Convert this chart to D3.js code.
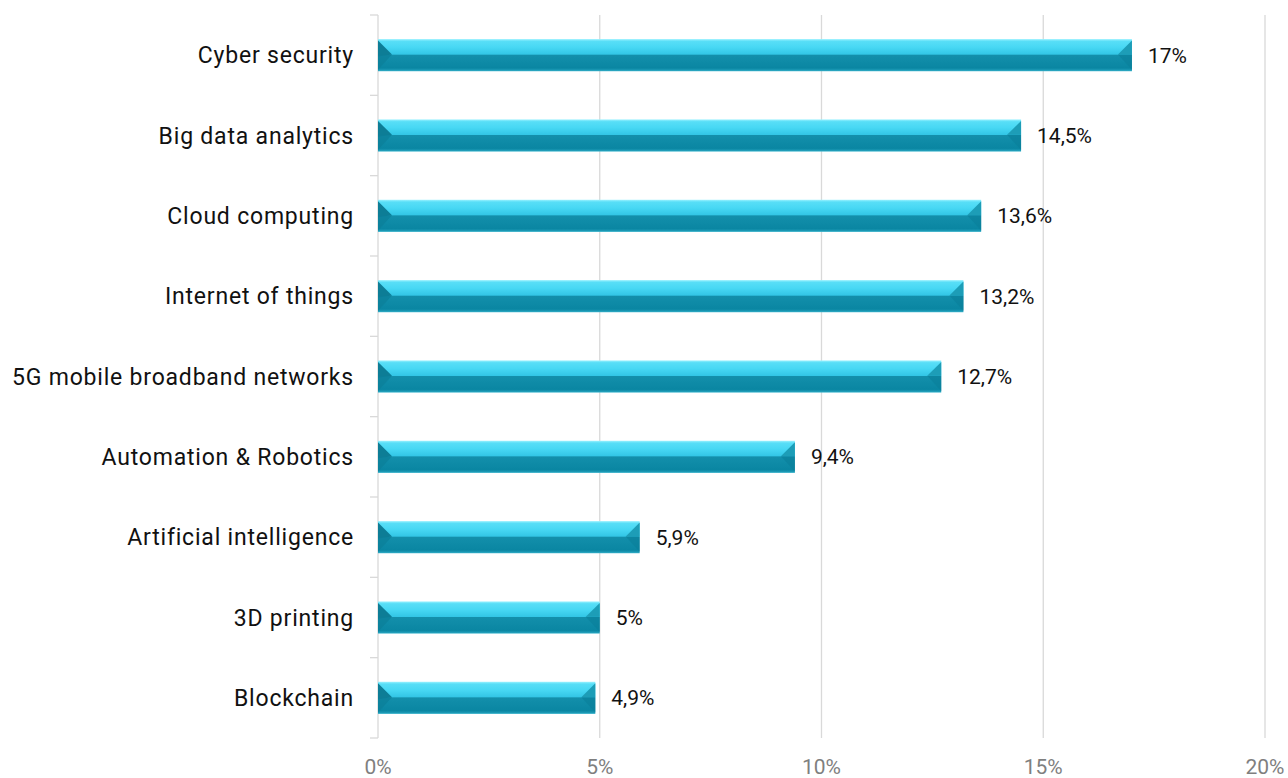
<!DOCTYPE html>
<html><head><meta charset="utf-8">
<script src="https://cdn.jsdelivr.net/npm/d3@7/dist/d3.min.js"></script>
<style>body{margin:0;background:#fff}svg{display:block}</style>
</head><body>
<svg id="chart" width="1288" height="778"></svg>
<script>
const categories = ["Cyber security","Big data analytics","Cloud computing","Internet of things","5G mobile broadband networks","Automation & Robotics","Artificial intelligence","3D printing","Blockchain"];
const values = [17, 14.5, 13.6, 13.2, 12.7, 9.4, 5.9, 5, 4.9];
const valueLabels = ["17%","14,5%","13,6%","13,2%","12,7%","9,4%","5,9%","5%","4,9%"];
const xTicks = [0, 5, 10, 15, 20];
const xTickLabels = ["0%","5%","10%","15%","20%"];

const svg = d3.select("#chart");
const m = {left: 378, right: 1265, top: 15, bottom: 738};
const font = "Roboto, 'DejaVu Sans', sans-serif";

const x = d3.scaleLinear().domain([0, 20]).range([m.left, m.right]);
const y = d3.scaleBand().domain(categories).range([m.top, m.bottom]).paddingInner(0.6).paddingOuter(0.3);

const defs = svg.append("defs");
const g = defs.append("linearGradient").attr("id","barGrad").attr("x1",0).attr("y1",0).attr("x2",0).attr("y2",1);
[[0,"#9af2ff"],[0.07,"#58def7"],[0.25,"#48d8f4"],[0.47,"#33c6e6"],[0.5,"#138fab"],[0.9,"#0a86a2"],[0.96,"#1a98b4"],[1,"#3ab4cc"]]
  .forEach(([o,c]) => g.append("stop").attr("offset",o).attr("stop-color",c));

// gridlines
svg.append("g").selectAll("line").data(xTicks.slice(1)).join("line")
  .attr("x1", d => x(d)).attr("x2", d => x(d))
  .attr("y1", m.top).attr("y2", m.bottom)
  .attr("stroke", "#d9d9d9").attr("stroke-width", 1.3);

// category axis line and ticks between bands
const bounds = d3.range(categories.length + 1).map(i => m.top + (m.bottom - m.top) * i / categories.length);
svg.append("line").attr("x1", m.left).attr("x2", m.left).attr("y1", m.top).attr("y2", m.bottom)
  .attr("stroke", "#d9d9d9").attr("stroke-width", 1.3);
svg.append("g").selectAll("line").data(bounds).join("line")
  .attr("x1", m.left - 8).attr("x2", m.left).attr("y1", d => d).attr("y2", d => d)
  .attr("stroke", "#d9d9d9").attr("stroke-width", 1.3);

// bars
const bev = 14;
const bars = svg.append("g").selectAll("g").data(categories).join("g");
bars.each(function(c, i) {
  const sel = d3.select(this);
  const x0 = x(0), x1 = x(values[i]);
  const y0 = y(c), h = y.bandwidth(), y1 = y0 + h, ym = y0 + h * 0.48;
  sel.append("rect").attr("x", x0).attr("y", y0).attr("width", x1 - x0).attr("height", h).attr("fill", "url(#barGrad)");
  sel.append("polygon").attr("points", [[x0, y0 + 1.5], [x0 + bev, ym], [x0, ym + 2]].join(" ")).attr("fill", "#0d7d96");
  sel.append("polygon").attr("points", [[x0, ym], [x0 + bev, ym], [x0, y1 - 1.5]].join(" ")).attr("fill", "#0b7f99").attr("opacity", 0.7);
  sel.append("polygon").attr("points", [[x1, y0 + 1.5], [x1 - bev, ym], [x1, ym]].join(" ")).attr("fill", "#1d9db7");
  sel.append("polygon").attr("points", [[x1, ym], [x1 - bev, ym], [x1, y1 - 1.5]].join(" ")).attr("fill", "#0a7f99").attr("opacity", 0.6);
  sel.append("text").attr("x", x1 + 16).attr("y", y0 + h / 2).attr("dy", "0.35em")
    .attr("font-family", font).attr("font-size", 21).attr("fill", "#111").text(valueLabels[i]);
});

// category labels
svg.append("g").selectAll("text").data(categories).join("text")
  .attr("x", m.left - 24).attr("y", d => y(d) + y.bandwidth() / 2).attr("dy", "0.35em")
  .attr("text-anchor", "end").attr("font-family", font).attr("font-size", 23)
  .attr("letter-spacing", 0.8).attr("fill", "#111")
  .text(d => d);

// x tick labels
svg.append("g").selectAll("text").data(xTicks).join("text")
  .attr("x", d => x(d)).attr("y", 767).attr("dy", "0.35em").attr("text-anchor", "middle")
  .attr("font-family", font).attr("font-size", 21).attr("fill", "#7f7f7f")
  .text((d, i) => xTickLabels[i]);
</script>
</body></html>
